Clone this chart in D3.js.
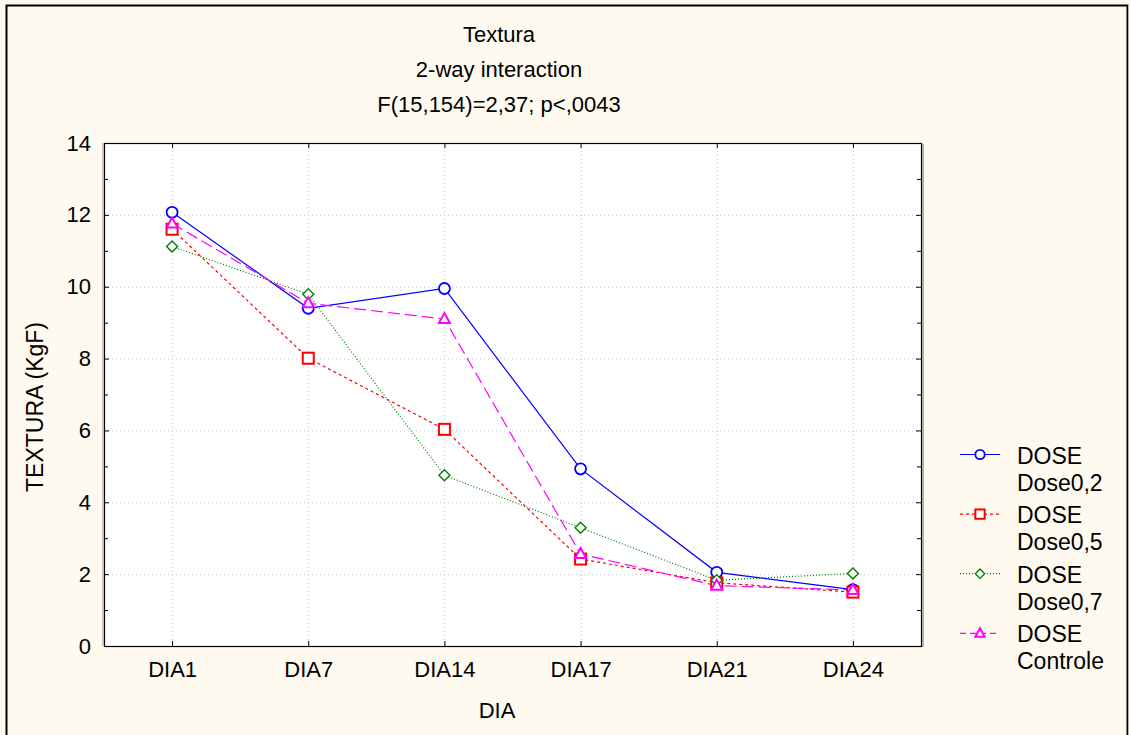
<!DOCTYPE html>
<html>
<head>
<meta charset="utf-8">
<title>Textura</title>
<style>
body { margin: 0; background: #fff; }
text { font-family: "Liberation Sans", Arial, sans-serif; fill: #000; }
.grid line { stroke: #c8c8c8; stroke-dasharray: 1,3; }
</style>
</head>
<body>
<script src="https://cdn.jsdelivr.net/npm/d3@7"></script>
<script>

// data
var days = ["DIA1", "DIA7", "DIA14", "DIA17", "DIA21", "DIA24"];
var dose02 = [12.07, 9.40, 9.95, 4.93, 2.05, 1.57];
var dose05 = [11.60, 8.01, 6.03, 2.42, 1.76, 1.50];
var dose07 = [11.12, 9.79, 4.75, 3.29, 1.83, 2.02];
var controle = [11.76, 9.54, 9.10, 2.56, 1.68, 1.56];
var yTicks = [0, 2, 4, 6, 8, 10, 12, 14];
var titleLines = ["Textura", "2-way interaction", "F(15,154)=2,37; p<,0043"];

var series = [
  {name: "Dose0,2", values: dose02, color: "#0000ff", dash: null, shape: "circle"},
  {name: "Dose0,5", values: dose05, color: "#ff0000", dash: "3,3", shape: "square"},
  {name: "Dose0,7", values: dose07, color: "#008000", dash: "1,2", shape: "diamond"},
  {name: "Controle", values: controle, color: "#ff00ff", dash: "12,5", shape: "triangle"}
];

var width = 1131, height = 735;
var margin = {left: 104, top: 143, right: 921, bottom: 646};
var font = "22px";

var svg = d3.select("body").append("svg")
    .attr("width", width)
    .attr("height", height);

// outer frame
svg.append("rect")
    .attr("x", 0).attr("y", 0)
    .attr("width", width).attr("height", height)
    .style("fill", "#fffaf0");
svg.append("path")
    .attr("d", "M6.5,740V5.5H1127.5V740")
    .style("fill", "none").style("stroke", "#000").style("stroke-width", 2);
svg.append("line")
    .attr("x1", 1128.5).attr("x2", 1128.5).attr("y1", 5).attr("y2", 735)
    .style("stroke", "#b0b0b0").style("stroke-width", 1);

var x = d3.scalePoint()
    .domain(days)
    .range([margin.left, margin.right])
    .padding(0.5);

var y = d3.scaleLinear()
    .domain([0, 14])
    .range([margin.bottom, margin.top]);

// plot area
svg.append("rect")
    .attr("x", margin.left).attr("y", margin.top)
    .attr("width", margin.right - margin.left)
    .attr("height", margin.bottom - margin.top)
    .style("fill", "#fff");

// grid
var grid = svg.append("g").attr("class", "grid");
grid.selectAll(".gy")
    .data(yTicks.filter(function(d) { return d > 0 && d < 14; }))
    .enter().append("line")
    .attr("x1", margin.left).attr("x2", margin.right)
    .attr("y1", function(d) { return y(d) + 0.5; })
    .attr("y2", function(d) { return y(d) + 0.5; });
grid.selectAll(".gx")
    .data(days)
    .enter().append("line")
    .attr("x1", function(d) { return Math.round(x(d)) + 0.5; })
    .attr("x2", function(d) { return Math.round(x(d)) + 0.5; })
    .attr("y1", margin.top).attr("y2", margin.bottom);

// axes, ticks pointing inward
var minor = d3.range(1, 14, 2);
svg.append("g")
    .attr("transform", "translate(" + margin.left + ",0)")
    .call(d3.axisLeft(y).tickValues(yTicks).tickSizeInner(-5).tickSizeOuter(0).tickPadding(13))
    .call(function(g) {
      g.select(".domain").remove();
      g.selectAll("text").style("font-size", font);
    });
svg.append("g")
    .attr("transform", "translate(" + margin.right + ",0)")
    .call(d3.axisRight(y).tickValues(yTicks).tickSizeInner(-5).tickSizeOuter(0).tickFormat(""))
    .call(function(g) { g.select(".domain").remove(); });
svg.append("g")
    .attr("transform", "translate(" + margin.left + ",0)")
    .call(d3.axisLeft(y).tickValues(minor).tickSizeInner(-4).tickSizeOuter(0).tickFormat(""))
    .call(function(g) { g.select(".domain").remove(); });
svg.append("g")
    .attr("transform", "translate(" + margin.right + ",0)")
    .call(d3.axisRight(y).tickValues(minor).tickSizeInner(-4).tickSizeOuter(0).tickFormat(""))
    .call(function(g) { g.select(".domain").remove(); });
svg.append("g")
    .attr("transform", "translate(0," + margin.bottom + ")")
    .call(d3.axisBottom(x).tickSizeInner(-5).tickSizeOuter(0).tickPadding(15))
    .call(function(g) {
      g.select(".domain").remove();
      g.selectAll("text").style("font-size", font);
    });
svg.append("g")
    .attr("transform", "translate(0," + margin.top + ")")
    .call(d3.axisTop(x).tickSizeInner(-5).tickSizeOuter(0).tickFormat(""))
    .call(function(g) { g.select(".domain").remove(); });

// plot frame
svg.append("rect")
    .attr("x", margin.left + 0.5).attr("y", margin.top + 0.5)
    .attr("width", margin.right - margin.left)
    .attr("height", margin.bottom - margin.top)
    .style("fill", "none").style("stroke", "#000").style("stroke-width", 1.2);
svg.append("line")
    .attr("x1", margin.right + 2).attr("x2", margin.right + 2)
    .attr("y1", margin.top + 1).attr("y2", margin.bottom + 1)
    .style("stroke", "#999").style("stroke-width", 1.5);
svg.append("line")
    .attr("x1", margin.left - 1).attr("x2", margin.left - 1)
    .attr("y1", margin.top).attr("y2", margin.bottom)
    .style("stroke", "#999").style("stroke-width", 1);

// symbols
function marker(sel, shape, color, s) {
  s = s || 1;
  if (shape == "circle") {
    sel.append("circle").attr("r", 5.5 * s)
      .style("fill", "#fff").style("stroke", color).style("stroke-width", 1.8);
  } else if (shape == "square") {
    sel.append("rect").attr("x", -5.5 * s).attr("y", -5.5 * s).attr("width", 11 * s).attr("height", 11 * s)
      .style("fill", "#fff").style("stroke", color).style("stroke-width", 2);
  } else if (shape == "diamond") {
    var r = 5.5 * s;
    sel.append("path").attr("d", "M0," + -r + "L" + r + ",0L0," + r + "L" + -r + ",0Z")
      .style("fill", "#fff").style("stroke", color).style("stroke-width", 1.4);
  } else {
    sel.append("path").attr("d", "M0," + (-6 * s) + "L" + (5.5 * s) + "," + (4 * s) + "L" + (-5.5 * s) + "," + (4 * s) + "Z")
      .style("fill", "#fff").style("stroke", color).style("stroke-width", 2);
  }
}

var line = d3.line()
    .x(function(d, i) { return x(days[i]); })
    .y(function(d) { return y(d); });

var lines = svg.append("g");
series.forEach(function(s) {
  lines.append("path")
      .attr("d", line(s.values))
      .style("fill", "none")
      .style("stroke", s.color)
      .style("stroke-width", 1.2)
      .style("stroke-dasharray", s.dash);
});
series.forEach(function(s) {
  s.values.forEach(function(v, i) {
    var g = svg.append("g")
        .attr("transform", "translate(" + x(days[i]) + "," + y(v) + ")");
    marker(g, s.shape, s.color);
  });
});

// titles
svg.selectAll(".title")
    .data(titleLines)
    .enter().append("text")
    .attr("x", 499)
    .attr("y", function(d, i) { return 42 + i * 35; })
    .attr("text-anchor", "middle")
    .style("font-size", font)
    .text(function(d) { return d; });

svg.append("text")
    .attr("transform", "translate(43,407) rotate(-90)")
    .attr("text-anchor", "middle")
    .style("font-size", "23px")
    .text("TEXTURA (KgF)");

svg.append("text")
    .attr("x", 497).attr("y", 718)
    .attr("text-anchor", "middle")
    .style("font-size", font)
    .text("DIA");

// legend
var legend = svg.selectAll(".legend")
    .data(series)
    .enter().append("g")
    .attr("transform", function(d, i) { return "translate(960," + (454.5 + i * 59.6) + ")"; });
legend.append("line")
    .attr("x1", 0).attr("x2", 40)
    .style("stroke", function(d) { return d.color; })
    .style("stroke-width", 1.2)
    .style("stroke-dasharray", function(d) { return d.dash == "12,5" ? "6,4" : d.dash; });
legend.each(function(d) {
  var g = d3.select(this).append("g").attr("transform", "translate(20,0)");
  marker(g, d.shape, d.color, 0.85);
});
legend.append("text")
    .attr("x", 57).attr("y", 9)
    .style("font-size", "23px")
    .text("DOSE");
legend.append("text")
    .attr("x", 57).attr("y", 36)
    .style("font-size", "23px")
    .text(function(d) { return d.name; });

</script>
</body>
</html>
